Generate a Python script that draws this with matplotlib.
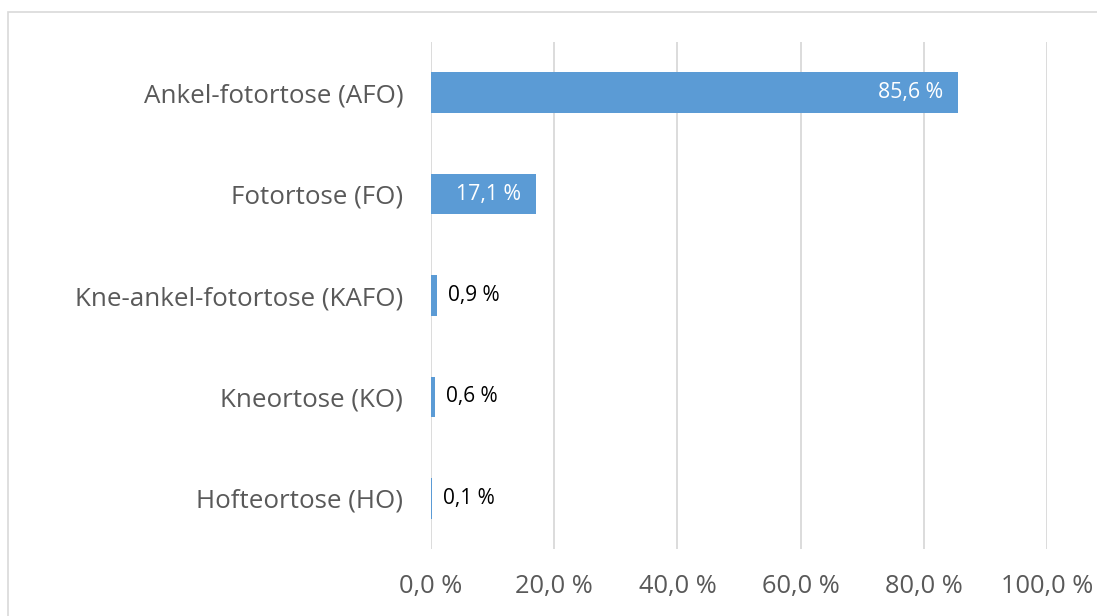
import matplotlib
matplotlib.use("Agg")
import matplotlib.pyplot as plt
from matplotlib.patches import Rectangle

categories = ["Ankel-fotortose (AFO)", "Fotortose (FO)", "Kne-ankel-fotortose (KAFO)",
              "Kneortose (KO)", "Hofteortose (HO)"]
values = [85.6, 17.1, 0.9, 0.6, 0.1]
labels = ["85,6 %", "17,1 %", "0,9 %", "0,6 %", "0,1 %"]
xticks = [0, 20, 40, 60, 80, 100]
xticklabels = ["0,0 %", "20,0 %", "40,0 %", "60,0 %", "80,0 %", "100,0 %"]

W, H = 1097, 616
fig = plt.figure(figsize=(W / 100, H / 100), dpi=100)
plt.rcParams['font.family'] = ['Open Sans', 'DejaVu Sans']

# chart border
fig.patches.append(Rectangle((8 / W, -0.1), 1.2, 1 - 12 / H + 0.1, transform=fig.transFigure,
                             fill=False, edgecolor="#D9D9D9", linewidth=1.2))

ax = fig.add_axes([431 / W, 1 - 549 / H, (1047 - 431) / W, (549 - 42) / H])
ypos = list(range(len(categories)))
ax.barh(ypos, values, height=0.4, color="#5B9BD5", zorder=3)
ax.set_ylim(len(categories) - 0.5, -0.5)
ax.set_xlim(0, 100)
ax.set_xticks(xticks)
ax.set_xticklabels(xticklabels, fontsize=18.3, color="#595959")
ax.set_yticks(ypos)
ax.set_yticklabels(categories, fontsize=18.7, color="#595959")
ax.tick_params(axis="y", length=0, pad=20)
ax.tick_params(axis="x", length=0, pad=18)
ax.grid(axis="x", color="#D9D9D9", linewidth=1.3, zorder=0)
for s in ax.spines.values():
    s.set_visible(False)

for y, v, lab in zip(ypos, values, labels):
    if v > 10:
        ax.annotate(lab, (v, y), xytext=(-11, 0), textcoords="offset points",
                    ha="right", va="center", color="white", fontsize=15.3, zorder=4)
    else:
        ax.annotate(lab, (v, y), xytext=(8, 0), textcoords="offset points",
                    ha="left", va="center", color="black", fontsize=15, zorder=4)

fig.savefig("out.png", dpi=100)
